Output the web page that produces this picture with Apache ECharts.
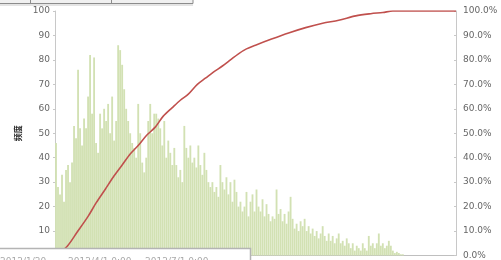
<!DOCTYPE html>
<html>
<head>
<meta charset="utf-8">
<script src="https://cdn.jsdelivr.net/npm/echarts@6/dist/echarts.min.js"></script>
<style>
  html, body { margin: 0; padding: 0; background: #fff; }
  #main { width: 501px; height: 260px; }
</style>
</head>
<body>
<div id="main"></div>
<script>
// 频度 (frequency) per bin
const freq = [
  46, 28, 25, 33, 22, 35, 37, 30, 38, 53,
  48, 76, 52, 45, 56, 52, 65, 82, 58, 81,
  46, 42, 58, 52, 60, 55, 62, 50, 65, 47,
  55, 86, 84, 78, 68, 60, 55, 50, 46, 44,
  40, 62, 50, 38, 34, 40, 55, 62, 50, 58,
  58, 56, 52, 45, 55, 40, 47, 42, 37, 44,
  37, 32, 35, 30, 53, 44, 40, 45, 38, 40,
  36, 45, 37, 33, 42, 35, 30, 28, 30, 26,
  28, 24, 37, 30, 27, 32, 25, 30, 22, 31,
  26, 20, 22, 18, 20, 26, 16, 22, 25, 18,
  27, 20, 18, 23, 16, 21, 17, 14, 16, 15,
  27, 17, 19, 14, 17, 13, 18, 24, 15, 11,
  13, 10, 14, 12, 15, 10, 12, 9, 11, 8,
  10, 7, 9, 12, 8, 6, 9, 6, 8, 5,
  7, 9, 5, 6, 4, 7, 5, 3, 5, 2,
  4, 3, 2, 5, 3, 2, 8, 4, 5, 3,
  5, 9, 4, 5, 3, 4, 6, 4, 2, 1,
  1.5, 1, 0.5, 0.5, 0, 0, 0, 0, 0, 0,
  0, 0, 0, 0, 0, 0, 0, 0, 0, 0,
  0, 0, 0, 0, 0, 0, 0, 0, 0, 0
]

// bin labels (hidden under the pane at the bottom)
const bins = freq.map((v, i) => String(i + 1))

// cumulative share, [bin position, ratio]
const cumPos = [1, 6, 11, 16.5, 20.5, 25, 29, 33.5, 37.5, 41.5, 45.5, 50, 54, 58.5, 62.5, 66.5, 71, 75, 79, 83.5, 87.5, 91.5, 95.5, 100, 108, 116.5, 125, 133.5, 141.5, 150, 157.5, 163.5, 168.5, 200]
const cumPct = [0.005, 0.037, 0.095, 0.16, 0.215, 0.27, 0.32, 0.37, 0.415, 0.45, 0.49, 0.525, 0.57, 0.605, 0.635, 0.66, 0.70, 0.725, 0.75, 0.775, 0.80, 0.825, 0.845, 0.86, 0.885, 0.91, 0.932, 0.95, 0.962, 0.98, 0.989, 0.994, 1.0, 1.0]

// bits of the neighbouring spreadsheet cells that show at the bottom
const paneTexts = ['2012/1/20', '2012/4/1 0:00', '2012/7/1 0:00']

const labelFont = { color: '#666', fontSize: 9, fontFamily: 'DejaVu Sans' }

const chart = echarts.init(document.getElementById('main'))
chart.setOption({
  animation: false,
  grid: { left: 55, right: 45, top: 11, bottom: 3 },
  xAxis: [
    {
      type: 'category',
      data: bins,
      axisLine: { lineStyle: { color: '#bfbfbf' } },
      axisTick: { show: false },
      axisLabel: { show: false }
    },
    {
      type: 'value',
      min: 0,
      max: 200,
      show: false
    }
  ],
  yAxis: [
    {
      type: 'value',
      min: 0,
      max: 100,
      interval: 10,
      name: '频度',
      nameLocation: 'middle',
      nameGap: 33,
      nameRotate: 90,
      nameTextStyle: { color: '#222', fontSize: 8, fontWeight: 'bold', fontFamily: 'Noto Sans CJK SC' },
      axisLine: { show: true, lineStyle: { color: '#c8c8c8' } },
      axisTick: { show: true, length: 2, lineStyle: { color: '#c8c8c8' } },
      axisLabel: Object.assign({ margin: 5 }, labelFont),
      splitLine: { show: false }
    },
    {
      type: 'value',
      min: 0,
      max: 1,
      interval: 0.1,
      position: 'right',
      axisLine: { show: true, lineStyle: { color: '#c8c8c8' } },
      axisTick: { show: true, inside: true, length: 2, lineStyle: { color: '#c8c8c8' } },
      axisLabel: Object.assign({
        margin: 7,
        formatter: v => (v * 100).toFixed(1) + '%'
      }, labelFont),
      splitLine: { show: false }
    }
  ],
  series: [
    {
      type: 'bar',
      data: freq,
      barCategoryGap: '8%',
      itemStyle: { color: '#d2e1b3' }
    },
    {
      type: 'line',
      xAxisIndex: 1,
      yAxisIndex: 1,
      data: cumPos.map((p, i) => [p, cumPct[i]]),
      showSymbol: false,
      smooth: 0.3,
      lineStyle: { color: '#c0504d', width: 1.6 }
    }
  ],
  graphic: [
    // top pane edge
    {
      type: 'rect',
      shape: { x: -1, y: -1, width: 194, height: 4.5 },
      style: { fill: '#f0f0f0', stroke: '#8c8c8c', lineWidth: 1 }
    },
    { type: 'line', shape: { x1: 30.5, y1: 0, x2: 30.5, y2: 3.5 }, style: { stroke: '#8c8c8c' } },
    { type: 'line', shape: { x1: 111.5, y1: 0, x2: 111.5, y2: 3.5 }, style: { stroke: '#8c8c8c' } },
    { type: 'rect', shape: { x: 0, y: 4, width: 193, height: 2 }, style: { fill: '#e4e4e4' } },
    // bottom pane
    {
      type: 'rect',
      z: 100,
      shape: { x: -2, y: 248.5, width: 252.5, height: 20 },
      style: { fill: '#fff', stroke: '#b4b4b4', lineWidth: 1.5 }
    },
    {
      type: 'text', z: 101, left: 0, top: 257,
      style: { text: paneTexts[0], fill: '#aaa', font: '9px "DejaVu Sans"' }
    },
    {
      type: 'text', z: 101, left: 68, top: 257,
      style: { text: paneTexts[1], fill: '#aaa', font: '9px "DejaVu Sans"' }
    },
    {
      type: 'text', z: 101, left: 145, top: 257,
      style: { text: paneTexts[2], fill: '#aaa', font: '9px "DejaVu Sans"' }
    }
  ]
})
</script>
</body>
</html>
